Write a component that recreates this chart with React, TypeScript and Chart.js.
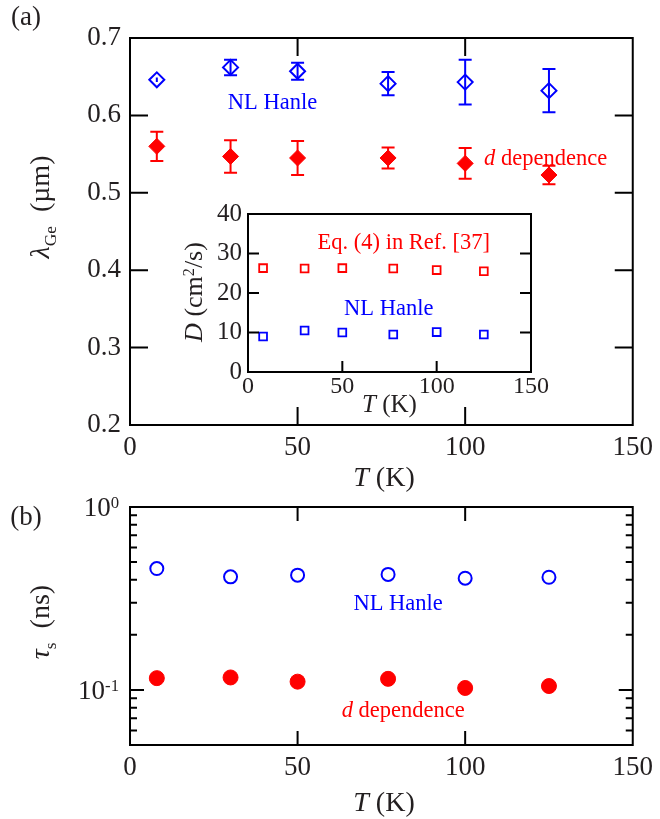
import React, { useEffect, useRef } from "react";
import { Chart, registerables } from "chart.js";
Chart.register(...registerables);

const FAMILY = "'Liberation Serif', 'Times New Roman', serif";
const TEXT = "#231f20";
const BLUE = "#0000ff";
const RED = "#ff0000";
const W = 660;
const H = 819;

// ---- data ----
const temperatures = [8, 30, 50, 77, 100, 125];
const lambdaHanle = [0.646, 0.662, 0.657, 0.641, 0.643, 0.632];
const lambdaHanleErr = [0.003, 0.01, 0.011, 0.015, 0.029, 0.028];
const lambdaDdep = [0.56, 0.547, 0.545, 0.545, 0.538, 0.523];
const lambdaDdepErr = [0.019, 0.021, 0.022, 0.0135, 0.02, 0.012];
const diffEq4 = [26.3, 26.2, 26.3, 26.2, 25.8, 25.5];
const diffHanle = [9.0, 10.5, 10.0, 9.5, 10.1, 9.5];
const tauHanle = [0.461, 0.415, 0.424, 0.428, 0.408, 0.413];
const tauDdep = [0.116, 0.117, 0.111, 0.115, 0.1025, 0.105];

const tempTicks = [0, 50, 100, 150];
const tempInnerTicks = [50, 100];
const lambdaTicks = [0.2, 0.3, 0.4, 0.5, 0.6, 0.7];
const lambdaInnerTicks = [0.3, 0.4, 0.5, 0.6];
const diffTicks = [0, 10, 20, 30, 40];
const diffInnerTicks = [10, 20, 30];
const tauMajorTicks = [0.1, 1];
const tauMinorTicks = [0.06, 0.07, 0.08, 0.09, 0.2, 0.3, 0.4, 0.5, 0.6, 0.7, 0.8, 0.9];

Chart.defaults.font.family = FAMILY;

type Seg = { t: string; i?: boolean; sub?: boolean; sup?: boolean };

function drawRich(
  ctx: CanvasRenderingContext2D,
  segs: Seg[],
  x: number,
  y: number,
  size: number,
  color: string,
  opts: { rot?: number; align?: "left" | "center" | "right" } = {}
) {
  const rot = opts.rot || 0;
  const align = opts.align || "center";
  ctx.save();
  ctx.translate(x, y);
  ctx.rotate(rot);
  const fontFor = (s: Seg) =>
    `${s.i ? "italic " : ""}${s.sub || s.sup ? size * 0.62 : size}px ${FAMILY}`;
  let total = 0;
  const widths = segs.map((s) => {
    ctx.font = fontFor(s);
    const w = ctx.measureText(s.t).width;
    total += w;
    return w;
  });
  let cx = align === "center" ? -total / 2 : align === "right" ? -total : 0;
  ctx.textAlign = "left";
  ctx.textBaseline = "alphabetic";
  ctx.fillStyle = color;
  const base = size * 0.33;
  segs.forEach((s, k) => {
    ctx.font = fontFor(s);
    const dy = s.sub ? size * 0.24 : s.sup ? -size * 0.3 : 0;
    ctx.fillText(s.t, cx, base + dy);
    cx += widths[k];
  });
  ctx.restore();
}

function framePlugin(cfg: {
  xTicks: number[];
  xTop: boolean;
  yTicks: number[];
  len: number;
  yMinor?: number[];
  minorLen?: number;
  lw: number;
}) {
  return {
    id: "frame",
    afterDraw(chart: any) {
      const { ctx, chartArea: a, scales } = chart;
      ctx.save();
      ctx.strokeStyle = "#000";
      ctx.lineWidth = cfg.lw;
      ctx.lineCap = "butt";
      ctx.strokeRect(a.left, a.top, a.right - a.left, a.bottom - a.top);
      ctx.beginPath();
      cfg.xTicks.forEach((v) => {
        const px = scales.x.getPixelForValue(v);
        ctx.moveTo(px, a.bottom);
        ctx.lineTo(px, a.bottom - cfg.len);
        if (cfg.xTop) {
          ctx.moveTo(px, a.top);
          ctx.lineTo(px, a.top + cfg.len);
        }
      });
      cfg.yTicks.forEach((v) => {
        const py = scales.y.getPixelForValue(v);
        ctx.moveTo(a.left, py);
        ctx.lineTo(a.left + cfg.len, py);
        ctx.moveTo(a.right, py);
        ctx.lineTo(a.right - cfg.len, py);
      });
      (cfg.yMinor || []).forEach((v) => {
        const py = scales.y.getPixelForValue(v);
        const l = cfg.minorLen || 6;
        ctx.moveTo(a.left, py);
        ctx.lineTo(a.left + l, py);
        ctx.moveTo(a.right, py);
        ctx.lineTo(a.right - l, py);
      });
      ctx.stroke();
      ctx.restore();
    },
  };
}

function errorBarPlugin(sets: { ds: number; err: number[]; color: string; cap: number }[]) {
  return {
    id: "errbars",
    afterDatasetsDraw(chart: any) {
      const { ctx, scales } = chart;
      const xs = scales.x;
      const ys = scales.y;
      ctx.save();
      ctx.lineWidth = 2;
      sets.forEach((s) => {
        const data = chart.data.datasets[s.ds].data;
        ctx.strokeStyle = s.color;
        ctx.beginPath();
        data.forEach((p: any, i: number) => {
          const px = xs.getPixelForValue(p.x);
          const y1 = ys.getPixelForValue(p.y + s.err[i]);
          const y2 = ys.getPixelForValue(p.y - s.err[i]);
          ctx.moveTo(px, y1);
          ctx.lineTo(px, y2);
          if (Math.abs(y2 - y1) / 2 > 5) {
            ctx.moveTo(px - s.cap, y1);
            ctx.lineTo(px + s.cap, y1);
            ctx.moveTo(px - s.cap, y2);
            ctx.lineTo(px + s.cap, y2);
          }
        });
        ctx.stroke();
      });
      ctx.restore();
    },
  };
}

function xAxis(fontSize: number, pad: number, height: number) {
  return {
    type: "linear",
    min: 0,
    max: 150,
    afterBuildTicks: (s: any) => {
      s.ticks = tempTicks.map((v) => ({ value: v }));
    },
    grid: { display: false, drawTicks: false },
    border: { display: false },
    ticks: { color: TEXT, font: { size: fontSize, family: FAMILY }, padding: pad, maxRotation: 0, autoSkip: false },
    afterFit: (s: any) => {
      s.height = height;
    },
  };
}

const baseOpts = {
  responsive: false,
  animation: false,
  devicePixelRatio: 1,
  events: [] as any[],
  plugins: { legend: { display: false }, tooltip: { enabled: false } },
};

function cfgA(): any {
  return {
    type: "scatter",
    data: {
      datasets: [
        {
          data: temperatures.map((t, i) => ({ x: t, y: lambdaHanle[i] })),
          pointStyle: "rectRot",
          pointRadius: 7.5,
          pointBorderWidth: 2,
          pointBorderColor: BLUE,
          pointBackgroundColor: "rgba(0,0,0,0)",
        },
        {
          data: temperatures.map((t, i) => ({ x: t, y: lambdaDdep[i] })),
          pointStyle: "rectRot",
          pointRadius: 8,
          pointBorderWidth: 1,
          pointBorderColor: RED,
          pointBackgroundColor: RED,
        },
      ],
    },
    options: {
      ...baseOpts,
      layout: { padding: { left: 0, top: 38, right: 22, bottom: 0 } },
      scales: {
        x: xAxis(27, 7, H - 425),
        y: {
          type: "linear",
          min: 0.2,
          max: 0.7,
          afterBuildTicks: (s: any) => {
            s.ticks = lambdaTicks.map((v) => ({ value: v }));
          },
          grid: { display: false, drawTicks: false },
          border: { display: false },
          ticks: { color: TEXT, font: { size: 27, family: FAMILY }, padding: 9, callback: (v: any) => Number(v).toFixed(1) },
          afterFit: (s: any) => {
            s.width = 130;
          },
        },
      },
    },
    plugins: [
      framePlugin({ xTicks: tempInnerTicks, xTop: true, yTicks: lambdaInnerTicks, len: 18, lw: 2 }),
      errorBarPlugin([
        { ds: 0, err: lambdaHanleErr, color: BLUE, cap: 6.5 },
        { ds: 1, err: lambdaDdepErr, color: RED, cap: 6.5 },
      ]),
      {
        id: "textsA",
        afterDraw(chart: any) {
          const { ctx, scales } = chart;
          const sx = scales.x;
          const sy = scales.y;
          drawRich(ctx, [{ t: "(a)" }], 26, 16, 27, TEXT);
          drawRich(ctx, [{ t: "λ", i: true }, { t: "Ge", sub: true }, { t: "  (µm)" }], 40, 207, 28, TEXT, { rot: -Math.PI / 2 });
          drawRich(ctx, [{ t: "T", i: true }, { t: " (K)" }], 384, 477, 28, TEXT);
          drawRich(ctx, [{ t: "NL Hanle" }], sx.getPixelForValue(42.5), sy.getPixelForValue(0.618), 22.5, BLUE);
          drawRich(ctx, [{ t: "d", i: true }, { t: " dependence" }], sx.getPixelForValue(124), sy.getPixelForValue(0.546), 22.5, RED);
        },
      },
    ],
  };
}

function cfgInset(): any {
  return {
    type: "scatter",
    data: {
      datasets: [
        {
          data: temperatures.map((t, i) => ({ x: t, y: diffEq4[i] })),
          pointStyle: "rect",
          pointRadius: 5.5,
          pointBorderWidth: 1.8,
          pointBorderColor: RED,
          pointBackgroundColor: "rgba(0,0,0,0)",
        },
        {
          data: temperatures.map((t, i) => ({ x: t, y: diffHanle[i] })),
          pointStyle: "rect",
          pointRadius: 5.5,
          pointBorderWidth: 1.8,
          pointBorderColor: BLUE,
          pointBackgroundColor: "rgba(0,0,0,0)",
        },
      ],
    },
    options: {
      ...baseOpts,
      layout: { padding: { left: 0, top: 214, right: W - 531, bottom: 0 } },
      scales: {
        x: xAxis(24, 0, H - 372),
        y: {
          type: "linear",
          min: 0,
          max: 40,
          afterBuildTicks: (s: any) => {
            s.ticks = diffTicks.map((v) => ({ value: v }));
          },
          grid: { display: false, drawTicks: false },
          border: { display: false },
          ticks: { color: TEXT, font: { size: 25, family: FAMILY }, padding: 6 },
          afterFit: (s: any) => {
            s.width = 248;
          },
        },
      },
    },
    plugins: [
      framePlugin({ xTicks: tempInnerTicks, xTop: false, yTicks: diffInnerTicks, len: 11, lw: 2 }),
      {
        id: "textsInset",
        afterDraw(chart: any) {
          const { ctx, scales } = chart;
          const sx = scales.x;
          const sy = scales.y;
          drawRich(ctx, [{ t: "D", i: true }, { t: " (cm" }, { t: "2", sup: true }, { t: "/s)" }], 193, 292, 26, TEXT, { rot: -Math.PI / 2 });
          drawRich(ctx, [{ t: "T", i: true }, { t: " (K)" }], 389.5, 404, 25, TEXT);
          drawRich(ctx, [{ t: "Eq. (4) in Ref. [37]" }], sx.getPixelForValue(82.6), sy.getPixelForValue(33.0), 22.5, RED);
          drawRich(ctx, [{ t: "NL Hanle" }], sx.getPixelForValue(74.6), sy.getPixelForValue(16.2), 22.5, BLUE);
        },
      },
    ],
  };
}

function cfgB(): any {
  return {
    type: "scatter",
    data: {
      datasets: [
        {
          data: temperatures.map((t, i) => ({ x: t, y: tauHanle[i] })),
          pointStyle: "circle",
          pointRadius: 6.5,
          pointBorderWidth: 2,
          pointBorderColor: BLUE,
          pointBackgroundColor: "rgba(0,0,0,0)",
        },
        {
          data: temperatures.map((t, i) => ({ x: t, y: tauDdep[i] })),
          pointStyle: "circle",
          pointRadius: 7.5,
          pointBorderWidth: 1,
          pointBorderColor: RED,
          pointBackgroundColor: RED,
        },
      ],
    },
    options: {
      ...baseOpts,
      layout: { padding: { left: 0, top: 507, right: 22, bottom: 0 } },
      scales: {
        x: xAxis(27, 7, H - 745),
        y: {
          type: "logarithmic",
          min: 0.05,
          max: 1,
          grid: { display: false, drawTicks: false },
          border: { display: false },
          ticks: { display: false },
          afterFit: (s: any) => {
            s.width = 130;
          },
        },
      },
    },
    plugins: [
      framePlugin({ xTicks: tempInnerTicks, xTop: true, yTicks: tauMajorTicks, len: 14, yMinor: tauMinorTicks, minorLen: 7, lw: 2 }),
      {
        id: "textsB",
        afterDraw(chart: any) {
          const { ctx, scales } = chart;
          const sx = scales.x;
          const sy = scales.y;
          drawRich(ctx, [{ t: "(b)" }], 26, 516, 27, TEXT);
          tauMajorTicks.forEach((v) => {
            const e = Math.round(Math.log10(v));
            drawRich(ctx, [{ t: "10" }, { t: String(e), sup: true }], 119, sy.getPixelForValue(v), 27, TEXT, { align: "right" });
          });
          drawRich(ctx, [{ t: "τ", i: true }, { t: "s", sub: true }, { t: "  (ns)" }], 40, 622, 28, TEXT, { rot: -Math.PI / 2 });
          drawRich(ctx, [{ t: "T", i: true }, { t: " (K)" }], 384, 802, 28, TEXT);
          drawRich(ctx, [{ t: "NL Hanle" }], sx.getPixelForValue(80), sy.getPixelForValue(0.299), 22.5, BLUE);
          drawRich(ctx, [{ t: "d", i: true }, { t: " dependence" }], sx.getPixelForValue(81.5), sy.getPixelForValue(0.0778), 22.5, RED);
        },
      },
    ],
  };
}

export default function App() {
  const aRef = useRef<HTMLCanvasElement>(null);
  const insetRef = useRef<HTMLCanvasElement>(null);
  const bRef = useRef<HTMLCanvasElement>(null);

  useEffect(() => {
    const charts = [
      new Chart(aRef.current!, cfgA()),
      new Chart(insetRef.current!, cfgInset()),
      new Chart(bRef.current!, cfgB()),
    ];
    return () => charts.forEach((c) => c.destroy());
  }, []);

  const cs: React.CSSProperties = { position: "absolute", left: 0, top: 0 };
  return (
    <div style={{ position: "absolute", left: 0, top: 0, width: W, height: H, background: "#fff" }}>
      <canvas ref={aRef} width={W} height={H} style={cs} />
      <canvas ref={insetRef} width={W} height={H} style={cs} />
      <canvas ref={bRef} width={W} height={H} style={cs} />
    </div>
  );
}
